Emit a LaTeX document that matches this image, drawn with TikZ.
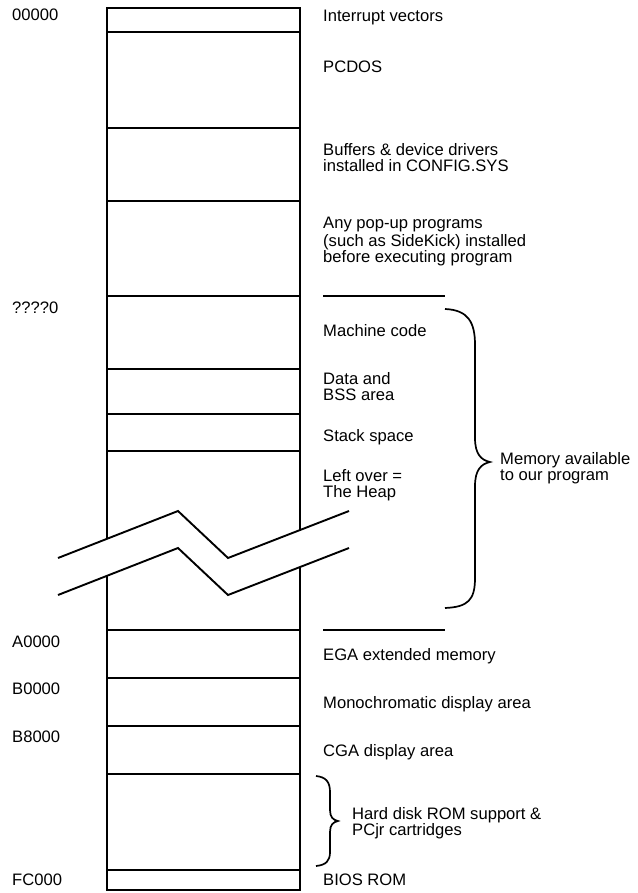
\documentclass[tikz,border=0pt]{standalone}
\usepackage{fontspec}
\setmainfont{Liberation Sans}
\begin{document}
\begin{tikzpicture}[x=1pt,y=-1pt,
  lbl/.style={anchor=base west,inner sep=0pt,font=\fontsize{16.6}{16.6}\selectfont},
  box/.style={line width=1.7pt},
  sep/.style={line width=1.6pt},
  brk/.style={line width=1.9pt,line join=miter},
  brc/.style={line width=1.7pt}]
\useasboundingbox[fill=white] (0,0) rectangle (637,893);
% memory column
\draw[box] (107,8) rectangle (300,890);
\foreach \yy in {32,128,201,296,369,414,451,630,678,726,774,870}
  \draw[box] (107,\yy) -- (300,\yy);
% break
\fill[white] (58,558) -- (178,511) -- (228,558) -- (349,511) -- (349,548) -- (228,595) -- (178,548) -- (58,595) -- cycle;
\coordinate (u1) at (58,558); \coordinate (u2) at (178,511); \coordinate (u3) at (228,558); \coordinate (u4) at (349,511);
\coordinate (l1) at (58,595); \coordinate (l2) at (178,548); \coordinate (l3) at (228,595); \coordinate (l4) at (349,548);
\draw[brk] (u1) -- (u2) -- (u3) -- (u4);
\draw[brk] (l1) -- (l2) -- (l3) -- (l4);
% separators
\coordinate (s1a) at (323,296); \coordinate (s1b) at (445,296);
\coordinate (s2a) at (323,630); \coordinate (s2b) at (445,630);
\draw[sep] (s1a) -- (s1b);
\draw[sep] (s2a) -- (s2b);
% big brace
\draw[brc] (445,309) .. controls (468,310) and (475,322) .. (475,345) -- (475,438)
  .. controls (475,454) and (481,460) .. (490,462)
  .. controls (481,464) and (475,470) .. (475,486) -- (475,578)
  .. controls (475,600) and (468,607) .. (445,608);
% small brace
\draw[brc] (316,776) .. controls (326,777) and (330,782) .. (330,792) -- (330,810)
  .. controls (330,817) and (333,820) .. (338,821)
  .. controls (333,822) and (330,825) .. (330,832) -- (330,852)
  .. controls (330,861) and (326,865) .. (316,866);
% addresses
\node[lbl] (a0) at (12,21) {00000};
\node[lbl] (a1) at (12,313) {????0};
\node[lbl] (a2) at (12,647) {A0000};
\node[lbl] (a3) at (12,694) {B0000};
\node[lbl] (a4) at (12,742) {B8000};
\node[lbl] (a5) at (12,885) {FC000};
% descriptions
\node[lbl] (t1) at (323,22) {Interrupt vectors};
\node[lbl] (t2) at (323,73) {PCDOS};
\node[lbl] (t3a) at (323,156) {Buffers \& device drivers};
\node[lbl] (t3b) at (323,172) {installed in CONFIG.SYS};
\node[lbl] (t4a) at (323,229) {Any pop-up programs};
\node[lbl] (t4b) at (323,246) {(such as SideKick) installed};
\node[lbl] (t4c) at (323,262) {before executing program};
\node[lbl] (t5) at (323,336) {Machine code};
\node[lbl] (t6a) at (323,384) {Data and};
\node[lbl] (t6b) at (323,400) {BSS area};
\node[lbl] (t7) at (323,441) {Stack space};
\node[lbl] (t8a) at (323,481) {Left over =};
\node[lbl] (t8b) at (323,497) {The Heap};
\node[lbl] (m1) at (500,464) {Memory available};
\node[lbl] (m2) at (500,480) {to our program};
\node[lbl] (t9) at (323,660) {EGA extended memory};
\node[lbl] (t10) at (323,708) {Monochromatic display area};
\node[lbl] (t11) at (323,756) {CGA display area};
\node[lbl] (t12a) at (352,819) {Hard disk ROM support \&};
\node[lbl] (t12b) at (352,835) {PCjr cartridges};
\node[lbl] (t13) at (323,885) {BIOS ROM};
\end{tikzpicture}
\end{document}
